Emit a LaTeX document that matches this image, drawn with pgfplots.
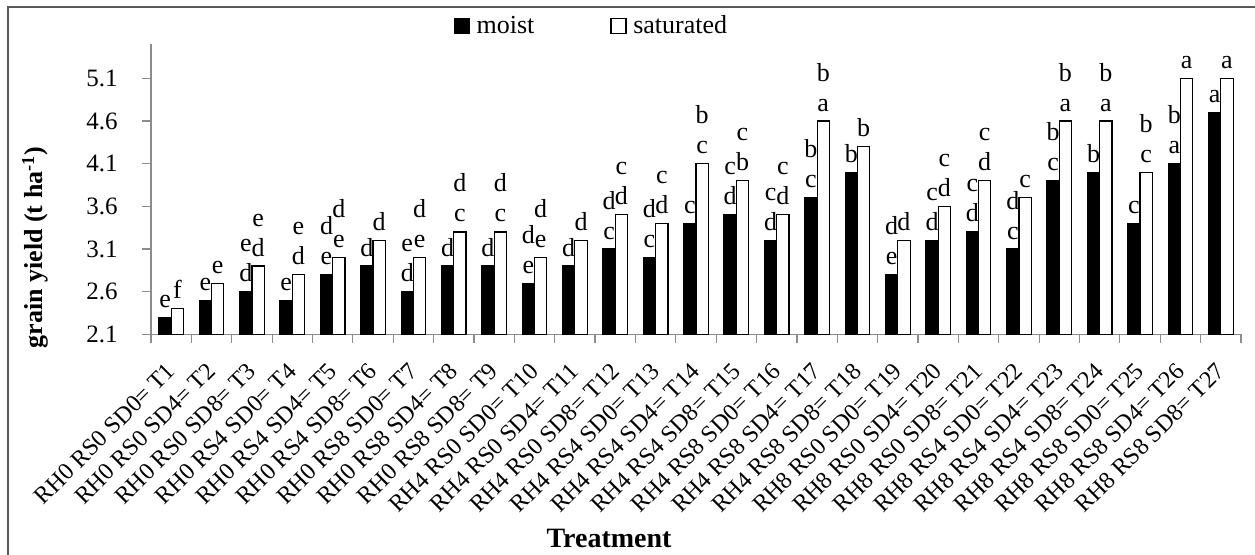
\documentclass[border=0pt]{standalone}
\usepackage{fontspec}
\setmainfont{Liberation Serif}
\usepackage{pgfplots}
\pgfplotsset{compat=1.18}
\pgfplotsset{mylegend/.style={legend image code/.code={\draw[##1, line width=0.6pt] (0pt,-3.75pt) rectangle (7.5pt,3.75pt);}}}
\begin{document}
\begin{tikzpicture}
\useasboundingbox (-75.5pt,-109.85pt) rectangle (552pt,167.15pt);
\draw[line width=1.1pt, color=black!65] (-71.5pt,-115pt) -- (-71.5pt,163.65pt) -- (560pt,163.65pt);
\begin{axis}[
  at={(0pt,0pt)}, anchor=south west,
  scale only axis, width=545pt, height=145pt,
  xmin=0.5, xmax=27.5, ymin=2.1, ymax=5.5,
  axis x line*=bottom, axis y line*=left,
  axis line style={draw=black!45, line width=0.6pt},
  tick style={draw=black!45, line width=0.6pt},
  tick align=outside, major tick length=4.3pt, minor tick length=4.3pt,
  ytick={2.1,2.6,3.1,3.6,4.1,4.6,5.1},
  yticklabel style={/pgf/number format/.cd, fixed, fixed zerofill, precision=1, /tikz/.cd, font=\fontsize{12.5}{14}\selectfont, inner sep=0pt, anchor=east, xshift=-12.2pt},
  /pgf/number format/assume math mode=true,
  xtick={1,2,...,27},
  major x tick style={draw=none},
  minor xtick={0.5,1.5,...,27.5},
  xticklabels={RH0 RS0 SD0= T1,RH0 RS0 SD4= T2,RH0 RS0 SD8= T3,RH0 RS4 SD0= T4,RH0 RS4 SD4= T5,RH0 RS4 SD8= T6,RH0 RS8 SD0= T7,RH0 RS8 SD4= T8,RH0 RS8 SD8= T9,RH4 RS0 SD0= T10,RH4 RS0 SD4= T11,RH4 RS0 SD8= T12,RH4 RS4 SD0= T13,RH4 RS4 SD4= T14,RH4 RS4 SD8= T15,RH4 RS8 SD0= T16,RH4 RS8 SD4= T17,RH4 RS8 SD8= T18,RH8 RS0 SD0= T19,RH8 RS0 SD4= T20,RH8 RS0 SD8= T21,RH8 RS4 SD0= T22,RH8 RS4 SD4= T23,RH8 RS4 SD8= T24,RH8 RS8 SD0= T25,RH8 RS8 SD4= T26,RH8 RS8 SD8= T27},
  xticklabel style={inner sep=0pt, yshift=-12pt, rotate=45, anchor=east, font=\fontsize{12}{14}\selectfont},
  ylabel={\textbf{grain yield (t ha\textsuperscript{-1})}},
  ylabel style={at={(axis description cs:-0.1060,0.2993)}, anchor=center, font=\fontsize{13}{15}\selectfont},
  xlabel={\textbf{Treatment}},
  xlabel style={at={(axis description cs:0.4202,-0.7024)}, anchor=center, font=\fontsize{14}{16}\selectfont},
  legend columns=2,
  legend style={at={(axis description cs:0.2775,1.063)}, anchor=west, draw=none, fill=none, inner sep=0pt,
    font=\fontsize{13}{15}\selectfont,
    /tikz/every odd column/.append style={column sep=1.3pt},
    /tikz/every even column/.append style={column sep=36pt}},
  every node near coord/.append style={font=\fontsize{13}{15}\selectfont, inner sep=0pt, anchor=base},
]
\addplot[ybar, bar width=6.15pt, bar shift=-3.075pt, fill=black, draw=black, line width=0.6pt, mylegend]
  coordinates {(1,2.3)(2,2.5)(3,2.6)(4,2.5)(5,2.8)(6,2.9)(7,2.6)(8,2.9)(9,2.9)(10,2.7)(11,2.9)(12,3.1)(13,3.0)(14,3.4)(15,3.5)(16,3.2)(17,3.7)(18,4.0)(19,2.8)(20,3.2)(21,3.3)(22,3.1)(23,3.9)(24,4.0)(25,3.4)(26,4.1)(27,4.7)};
\addlegendentry{moist}
\addplot[ybar, bar width=6.15pt, bar shift=3.075pt, fill=white, draw=black, line width=0.6pt, mylegend]
  coordinates {(1,2.4)(2,2.7)(3,2.9)(4,2.8)(5,3.0)(6,3.2)(7,3.0)(8,3.3)(9,3.3)(10,3.0)(11,3.2)(12,3.5)(13,3.4)(14,4.1)(15,3.9)(16,3.5)(17,4.6)(18,4.3)(19,3.2)(20,3.6)(21,3.9)(22,3.7)(23,4.6)(24,4.6)(25,4.0)(26,5.1)(27,5.1)};
\addlegendentry{saturated}
% moist lower letters
\addplot[draw=none, mark=none, forget plot, nodes near coords, point meta=explicit symbolic,
  every node near coord/.append style={xshift=-3.075pt, yshift=5pt}]
  coordinates {(1,2.3)[e](2,2.5)[e](3,2.6)[d](4,2.5)[e](5,2.8)[e](6,2.9)[d](7,2.6)[d](8,2.9)[d](9,2.9)[d](10,2.7)[e](11,2.9)[d](12,3.1)[c](13,3.0)[c](14,3.4)[c](15,3.5)[d](16,3.2)[d](17,3.7)[c](18,4.0)[b](19,2.8)[e](20,3.2)[d](21,3.3)[d](22,3.1)[c](23,3.9)[c](24,4.0)[b](25,3.4)[c](26,4.1)[a](27,4.7)[a]};
% moist upper letters
\addplot[draw=none, mark=none, forget plot, nodes near coords, point meta=explicit symbolic,
  every node near coord/.append style={xshift=-3.075pt, yshift=20pt}]
  coordinates {(3,2.6)[e](5,2.8)[d](7,2.6)[e](10,2.7)[d](12,3.1)[d](13,3.0)[d](15,3.5)[c](16,3.2)[c](17,3.7)[b](19,2.8)[d](20,3.2)[c](21,3.3)[c](22,3.1)[d](23,3.9)[b](26,4.1)[b]};
% saturated lower letters
\addplot[draw=none, mark=none, forget plot, nodes near coords, point meta=explicit symbolic,
  every node near coord/.append style={xshift=3.075pt, yshift=5pt}]
  coordinates {(1,2.4)[f](2,2.7)[e](3,2.9)[d](4,2.8)[d](5,3.0)[e](6,3.2)[d](7,3.0)[e](8,3.3)[c](9,3.3)[c](10,3.0)[e](11,3.2)[d](12,3.5)[d](13,3.4)[d](14,4.1)[c](15,3.9)[b](16,3.5)[d](17,4.6)[a](18,4.3)[b](19,3.2)[d](20,3.6)[d](21,3.9)[d](22,3.7)[c](23,4.6)[a](24,4.6)[a](25,4.0)[c](26,5.1)[a](27,5.1)[a]};
% saturated upper letters
\addplot[draw=none, mark=none, forget plot, nodes near coords, point meta=explicit symbolic,
  every node near coord/.append style={xshift=3.075pt, yshift=20pt}]
  coordinates {(3,2.9)[e](4,2.8)[e](5,3.0)[d](7,3.0)[d](8,3.3)[d](9,3.3)[d](10,3.0)[d](12,3.5)[c](13,3.4)[c](14,4.1)[b](15,3.9)[c](16,3.5)[c](17,4.6)[b](20,3.6)[c](21,3.9)[c](23,4.6)[b](24,4.6)[b](25,4.0)[b]};
\end{axis}
\end{tikzpicture}
\end{document}
